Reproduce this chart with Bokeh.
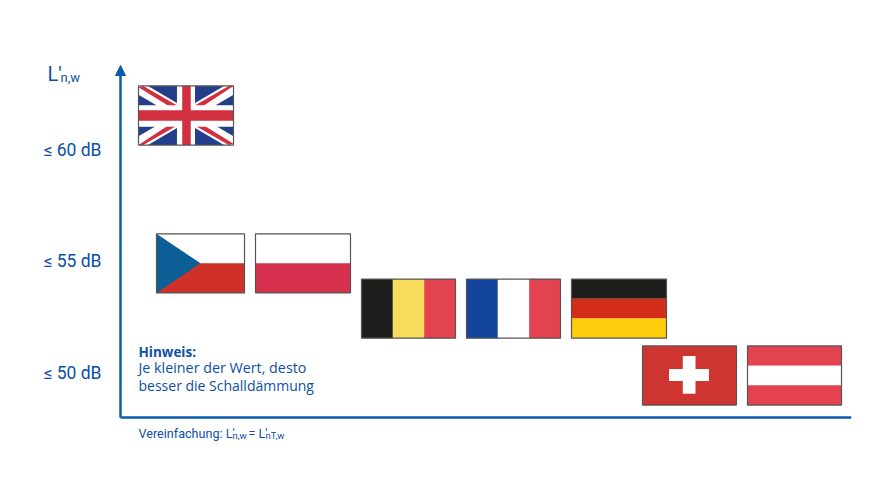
from bokeh.plotting import figure
from bokeh.models import Range1d, Label, Arrow, NormalHead, FixedTicker
from bokeh.core.properties import value
from bokeh.embed import file_html
from bokeh.resources import INLINE

# ---- data ----
db_ticks = [50, 55, 60]
db_tick_labels = ["≤ 50 dB", "≤ 55 dB", "≤ 60 dB"]
countries = ["UK", "CZ", "PL", "BE", "FR", "DE", "CH", "AT"]
flag_db_bottom = [60.2, 53.57, 53.57, 51.54, 51.54, 51.54, 48.54, 48.54]
flag_left = [138, 156, 255, 361, 466, 571, 642, 747]
flag_width = [95, 88, 95, 94, 94, 95, 94, 94]
FLAG_DB_H = 2.65

BLUE_TXT = "#0b50a5"
BLUE_AX = "#0a5cb0"
FONT = "Open Sans"
NARROW = "Roboto"

def rect(x0, y0, x1, y1):
    return [(x0, y0), (x1, y0), (x1, y1), (x0, y1)]

UKB, UKR = "#233f8c", "#d22f3f"
RED_L = "#e3434f"
parts = {
    "UK": [
        (UKB, rect(0, 0, 1, 1)),
        ("#ffffff", [(0, 0), (.1, 0), (1, .85), (1, 1), (.9, 1), (0, .15)]),
        ("#ffffff", [(1, 0), (.9, 0), (0, .85), (0, 1), (.1, 1), (1, .15)]),
        (UKR, [(0, .02), (.05, .0), (.44, .36), (.34, .36)]),
        (UKR, [(1, .0), (.95, 0), (.56, .36), (.66, .36)]),
        (UKR, [(0, 1), (.05, 1), (.44, .64), (.34, .64)]),
        (UKR, [(1, .98), (.95, 1), (.56, .64), (.66, .64)]),
        ("#ffffff", rect(.405, 0, .595, 1)),
        ("#ffffff", rect(0, .325, 1, .69)),
        (UKR, rect(.46, 0, .55, 1)),
        (UKR, rect(0, .41, 1, .59)),
    ],
    "CZ": [
        ("#ffffff", rect(0, 0, 1, .5)),
        ("#cf3129", rect(0, .5, 1, 1)),
        ("#0c5f96", [(0, 0), (.5, .5), (0, 1)]),
    ],
    "PL": [("#ffffff", rect(0, 0, 1, .5)), ("#d6304f", rect(0, .5, 1, 1))],
    "BE": [("#1d1d1b", rect(0, 0, 1/3, 1)), ("#f7dc5c", rect(1/3, 0, 2/3, 1)), (RED_L, rect(2/3, 0, 1, 1))],
    "FR": [("#12459b", rect(0, 0, 1/3, 1)), ("#ffffff", rect(1/3, 0, 2/3, 1)), (RED_L, rect(2/3, 0, 1, 1))],
    "DE": [("#1d1d1b", rect(0, 0, 1, 1/3)), ("#d22d18", rect(0, 1/3, 1, 2/3)), ("#ffcc0c", rect(0, 2/3, 1, 1))],
    "CH": [
        ("#cf3530", rect(0, 0, 1, 1)),
        ("#ffffff", rect(.282, .39, .707, .595)),
        ("#ffffff", rect(.429, .17, .564, .807)),
    ],
    "AT": [(RED_L, rect(0, 0, 1, 1/3)), ("#ffffff", rect(0, 1/3, 1, 2/3)), (RED_L, rect(0, 2/3, 1, 1))],
}

W, H = 880, 488
X0, X1 = 30, 851          # page px of the frame
AX_X = 120
TOP, BOT, AX_Y = 40, 460, 417
PX_PER_DB = 22.3

def py(px):
    return 50 + (372 - px) / PX_PER_DB

y_lo, y_hi, y_axis = py(BOT), py(TOP), py(AX_Y)

p = figure(width=W, height=H, output_backend="svg", toolbar_location=None,
           x_range=Range1d(X0, X1), y_range=Range1d(y_lo, y_hi),
           min_border_left=X0, min_border_right=W - X1,
           min_border_top=TOP, min_border_bottom=H - BOT)
p.outline_line_color = None
p.grid.visible = False
p.background_fill_color = "#ffffff"
p.border_fill_color = "#ffffff"

# axes (tick labels are drawn below through the dB scale, so they stay inside the frame)
p.yaxis.fixed_location = AX_X
p.yaxis.ticker = FixedTicker(ticks=[])
p.yaxis.bounds = (y_axis, py(72))
p.xaxis.fixed_location = y_axis
p.xaxis.bounds = (AX_X, X1)
p.xaxis.ticker = FixedTicker(ticks=[])
for ax in (p.xaxis, p.yaxis):
    ax.major_tick_line_color = None
    ax.minor_tick_line_color = None
    ax.major_label_text_font_size = "0px"
    ax.axis_line_color = BLUE_AX
    ax.axis_line_width = 2.5

p.text(x=[101] * len(db_ticks), y=db_ticks, text=db_tick_labels,
       text_font=value(NARROW), text_font_size=value("17.5px"), text_color=BLUE_TXT,
       text_align="right", text_baseline="middle", y_offset=0)

# arrow head on the y axis
p.add_layout(Arrow(end=NormalHead(size=10, fill_color=BLUE_AX, line_color=BLUE_AX),
                   x_start=AX_X, y_start=py(76), x_end=AX_X, y_end=py(65),
                   line_color=BLUE_AX, line_width=2.5))

# flags
for c, b, l, w in zip(countries, flag_db_bottom, flag_left, flag_width):
    top = b + FLAG_DB_H
    xs, ys, cols = [], [], []
    for col, poly in parts[c]:
        xs.append([l + px * w for px, _ in poly])
        ys.append([top - py_ * FLAG_DB_H for _, py_ in poly])
        cols.append(col)
    p.patches(xs, ys, fill_color=cols, line_color=None)
    p.quad(left=[l], right=[l + w], bottom=[b], top=[top], fill_color=None,
           line_color="#555555", line_width=1.2)

def label(txt, x, y_px, size, font=FONT, style="normal"):
    p.add_layout(Label(x=x - X0, y=BOT - y_px, x_units="screen", y_units="screen",
                       text=txt, text_font=font, text_font_size=f"{size}px",
                       text_color=BLUE_TXT, text_font_style=style,
                       text_baseline="alphabetic", text_align="left"))

label("L'", 47, 73, 20, font=NARROW)
label("n,w", 60, 77, 13, font=NARROW)
label("Hinweis:", 138, 351, 13.5, style="bold")
label("Je kleiner der Wert, desto", 138, 367, 14.3)
label("besser die Schalldämmung", 138, 385, 14)
label("Vereinfachung: L'", 138, 433, 12.6, font=NARROW)
label("n,w", 232, 435, 9.5, font=NARROW)
label("= L'", 248, 433, 12.6, font=NARROW)
label("nT,w", 265, 435, 9.5, font=NARROW)

open("out.html", "w").write(file_html(p, INLINE))
